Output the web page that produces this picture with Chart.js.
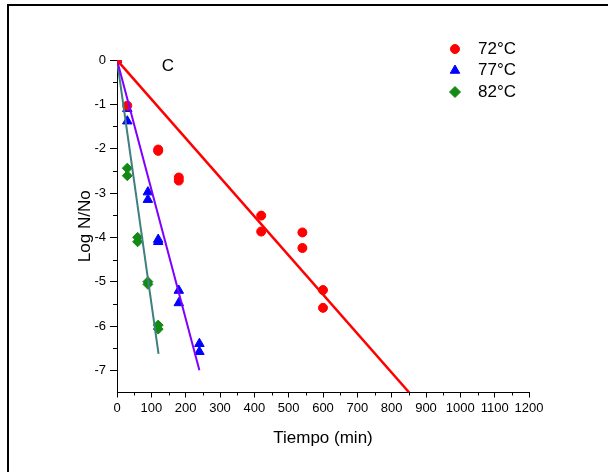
<!DOCTYPE html>
<html>
<head>
<meta charset="utf-8">
<script src="https://cdn.jsdelivr.net/npm/chart.js@4.4.1/dist/chart.umd.min.js"></script>
<style>
  html, body { margin: 0; padding: 0; background: #fff; }
</style>
</head>
<body>
<canvas id="myChart" width="608" height="472"></canvas>
<script>
const series_names = ["72°C", "77°C", "82°C"];
const series_colors = ["#ff0000", "#0000ff", "#138a13"];
const series_styles = ["circle", "triangle", "rectRot"];

// measured points, time (min) and Log N/No
const t72 = [0, 30, 120, 120, 180, 180, 420, 420, 540, 540, 600, 600];
const log72 = [0, -1.03, -2.02, -2.05, -2.65, -2.72, -3.51, -3.87, -3.89, -4.24, -5.19, -5.59];
const t77 = [0, 30, 30, 90, 90, 120, 120, 180, 180, 240, 240];
const log77 = [0, -1.1, -1.38, -2.98, -3.15, -4.05, -4.1, -5.2, -5.48, -6.4, -6.58];
const t82 = [0, 30, 30, 60, 60, 90, 90, 120, 120];
const log82 = [0, -2.44, -2.61, -4.0, -4.1, -5.0, -5.06, -5.98, -6.07];

// fitted lines, start and end
const fit72_t = [0, 851];
const fit72_y = [0, -7.5];
const fit77_t = [0, 240];
const fit77_y = [0, -7.0];
const fit82_t = [0, 121];
const fit82_y = [0, -6.63];
const fit_colors = ["#ff0000", "#8000ff", "#3f7f7f"];

const x_ticks = [0, 100, 200, 300, 400, 500, 600, 700, 800, 900, 1000, 1100, 1200];
const y_ticks = [0, -1, -2, -3, -4, -5, -6, -7];
const panel_label = "C";

const font_name = "'Liberation Sans', Arial, sans-serif";

function to_points(xs, ys) {
    return xs.map((v, i) => ({ x: v, y: ys[i] }));
}

const frame_and_legend = {
    id: "frame_and_legend",
    afterDraw(chart) {
        const ctx = chart.ctx;
        const x = chart.scales.x;
        const y = chart.scales.y;
        ctx.save();
        // outer frame (top and left only)
        ctx.strokeStyle = "#000";
        ctx.lineWidth = 2;
        ctx.beginPath();
        ctx.moveTo(8, 472);
        ctx.lineTo(8, 5);
        ctx.lineTo(608, 5);
        ctx.stroke();

        // minor ticks
        ctx.lineWidth = 1;
        ctx.beginPath();
        for (let v = 50; v < 1200; v += 100) {
            const px = Math.round(x.getPixelForValue(v)) + 0.5;
            ctx.moveTo(px, x.top);
            ctx.lineTo(px, x.top + 3);
        }
        for (let v = -0.5; v > -7.5; v -= 1) {
            const py = Math.round(y.getPixelForValue(v)) + 0.5;
            ctx.moveTo(y.right, py);
            ctx.lineTo(y.right - 4, py);
        }
        ctx.stroke();

        // legend
        ctx.font = "17px " + font_name;
        ctx.textBaseline = "middle";
        series_names.forEach((name, i) => {
            const ly = 49 + i * 21.5;
            ctx.fillStyle = series_colors[i];
            ctx.strokeStyle = series_colors[i];
            Chart.helpers.drawPoint(ctx, {
                pointStyle: series_styles[i],
                radius: i == 0 ? 4.5 : 5.5,
                rotation: 0,
                borderWidth: 1
            }, 455, ly);
            ctx.fillStyle = "#000";
            ctx.fillText(name, 478, ly);
        });

        // panel letter
        ctx.fillText(panel_label, x.getPixelForValue(130), y.getPixelForValue(-0.14));
        ctx.restore();
    }
};

const ctx = document.getElementById("myChart").getContext("2d");
const my_chart = new Chart(ctx, {
    type: "scatter",
    data: {
        datasets: [
            {
                label: series_names[0],
                data: to_points(t72, log72),
                backgroundColor: series_colors[0],
                borderColor: series_colors[0],
                pointStyle: series_styles[0],
                pointRadius: 4.5,
                order: 2,
            },
            {
                label: series_names[1],
                data: to_points(t77, log77),
                backgroundColor: series_colors[1],
                borderColor: series_colors[1],
                pointStyle: series_styles[1],
                pointRadius: 5.5,
                order: 2,
            },
            {
                label: series_names[2],
                data: to_points(t82, log82),
                backgroundColor: series_colors[2],
                borderColor: series_colors[2],
                pointStyle: series_styles[2],
                pointRadius: 5,
                order: 2,
            },
            {
                type: "line",
                data: to_points(fit72_t, fit72_y),
                borderColor: fit_colors[0],
                borderWidth: 2.5,
                pointRadius: 0,
                order: 1,
            },
            {
                type: "line",
                data: to_points(fit77_t, fit77_y),
                borderColor: fit_colors[1],
                borderWidth: 2,
                pointRadius: 0,
                order: 1,
            },
            {
                type: "line",
                data: to_points(fit82_t, fit82_y),
                borderColor: fit_colors[2],
                borderWidth: 2,
                pointRadius: 0,
                order: 1,
            },
        ],
    },
    options: {
        responsive: false,
        devicePixelRatio: 1,
        animation: false,
        layout: { padding: { left: 0, right: 79, top: 60, bottom: 19.5 } },
        plugins: {
            legend: { display: false },
            tooltip: { enabled: false },
        },
        scales: {
            x: {
                type: "linear",
                min: 0,
                max: 1200,
                afterBuildTicks: (axis) => {
                    axis.ticks = x_ticks.map((v) => ({ value: v }));
                },
                afterFit: (axis) => { axis.height = 60; },
                border: { color: "#000", width: 1 },
                grid: { drawOnChartArea: false, tickLength: 5, tickColor: "#000" },
                ticks: {
                    color: "#000",
                    padding: 3,
                    maxRotation: 0,
                    autoSkip: false,
                    font: { family: font_name, size: 13 },
                    callback: (v) => String(v),
                },
                title: {
                    display: true,
                    text: "Tiempo (min)",
                    color: "#000",
                    font: { family: font_name, size: 17 },
                    padding: { top: 0, bottom: 4 },
                },
            },
            y: {
                type: "linear",
                min: -7.5,
                max: 0,
                afterBuildTicks: (axis) => {
                    axis.ticks = y_ticks.map((v) => ({ value: v }));
                },
                afterFit: (axis) => { axis.width = 117; },
                border: { color: "#000", width: 1 },
                grid: { drawOnChartArea: false, tickLength: 7, tickColor: "#000" },
                ticks: {
                    color: "#000",
                    padding: 4,
                    autoSkip: false,
                    font: { family: font_name, size: 13 },
                    callback: (v) => String(v),
                },
                title: {
                    display: true,
                    text: "Log N/No",
                    color: "#000",
                    font: { family: font_name, size: 17 },
                    padding: { top: 75, bottom: 0 },
                },
            },
        },
    },
    plugins: [frame_and_legend],
});
</script>
</body>
</html>
